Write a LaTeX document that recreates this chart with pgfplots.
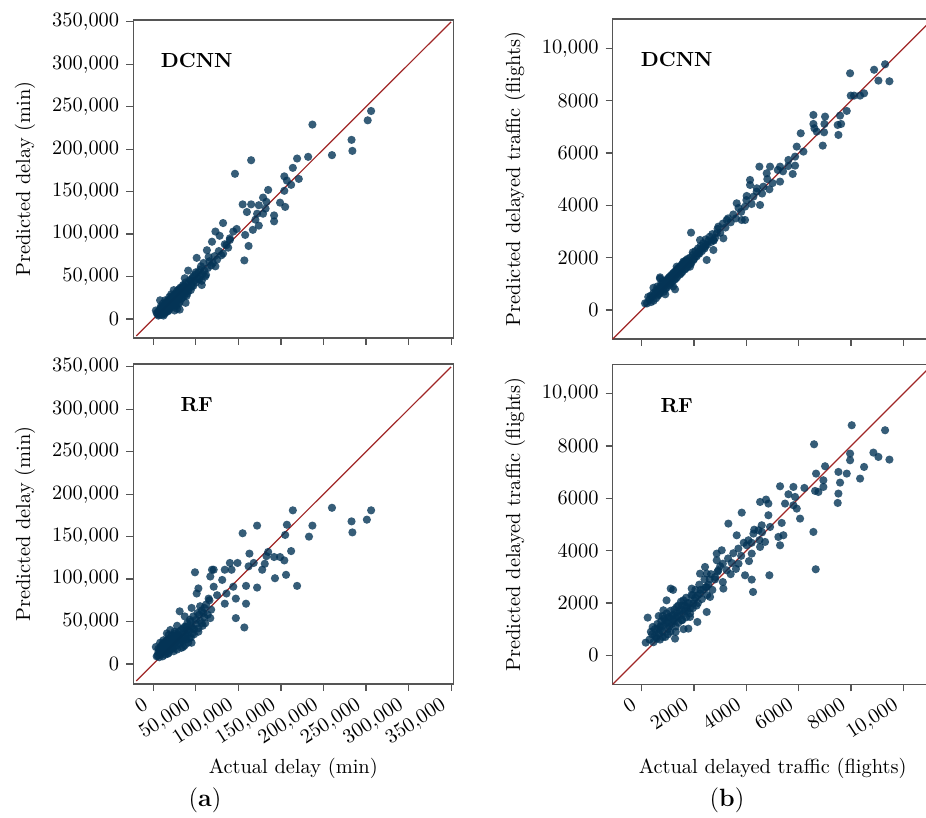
\documentclass[border=0pt]{standalone}
\usepackage{pgfplots}
\pgfplotsset{compat=1.18}
\definecolor{dotc}{RGB}{4,52,86}
\definecolor{diagc}{RGB}{160,38,38}
\definecolor{framec}{RGB}{85,85,85}

\pgfplotstableread{
x y
256000 245000
252000 234000
233000 211000
234000 198000
210000 193000
187000 229000
182000 191000
169000 189000
164000 178000
171000 165000
154000 168000
157000 163000
162000 158000
154000 151000
149000 137000
155000 132000
142000 122000
142000 115000
135000 152000
129000 143000
133000 138000
124000 134000
132000 130000
129000 124000
115000 187000
96000 171000
115000 135000
105000 135000
110000 126000
122000 124000
120000 117000
124000 110000
117000 105000
108000 99000
112000 86000
107000 69000
98000 106000
94000 103000
82000 113000
73000 103000
78000 98000
90000 93000
86000 87000
82000 77000
73000 62000
69000 91000
63000 81000
51000 72000
65000 73000
59000 66000
55000 58000
41000 57000
57000 40000
37000 48000
45000 38000
31000 34000
38000 19000
31000 11000
8000 22000
4000 7000
5000 6000
6000 9000
7000 5000
8000 8000
8000 12000
9000 7000
10000 10000
10000 14000
11000 8000
12000 11000
12000 15000
13000 9000
14000 13000
14000 18000
15000 12000
15000 16000
16000 20000
17000 14000
17000 22000
18000 17000
19000 15000
19000 20000
20000 24000
20000 18000
21000 13000
22000 21000
22000 26000
23000 19000
24000 23000
24000 28000
25000 16000
25000 21000
26000 30000
27000 25000
27000 20000
28000 33000
28000 27000
29000 22000
30000 29000
30000 35000
31000 26000
32000 31000
33000 36000
33000 24000
34000 29000
35000 40000
35000 33000
36000 27000
37000 38000
38000 32000
38000 43000
39000 36000
40000 30000
41000 42000
42000 37000
43000 46000
44000 34000
45000 41000
46000 48000
47000 39000
48000 45000
49000 52000
50000 43000
52000 47000
53000 55000
55000 50000
57000 45000
58000 53000
60000 57000
62000 52000
64000 60000
66000 68000
68000 63000
70000 66000
72000 74000
75000 70000
77000 80000
80000 75000
84000 88000
88000 84000
90000 95000
12000 4000
18000 10000
25000 10000
30000 18000
15000 8000
22000 15000
3000 10000
28000 12000
6000 4000
9000 15000
11000 18000
13000 6000
16000 11000
18000 21000
20000 14000
21000 29000
23000 16000
25000 26000
26000 19000
29000 31000
31000 20000
32000 37000
34000 25000
36000 39000
39000 27000
41000 33000
44000 45000
47000 50000
50000 55000
54000 47000
56000 62000
61000 50000
19000 26000
24000 34000
14000 22000
10000 5000
17000 9000
27000 15000
}\tlData

\pgfplotstableread{
x y
9300 9390
8880 9180
9045 8765
9466 8740
7963 9045
7988 8192
8115 8192
8345 8192
8498 8280
7835 7606
7580 7427
7620 7109
7517 6689
7490 7070
7007 7390
6561 7453
6561 7109
6982 7109
6688 6816
6969 6790
6918 6281
6600 6943
6077 6752
5924 6243
6179 6052
5861 5860
5606 5733
5861 5516
5771 5198
5287 5478
5287 4905
4905 5478
4777 5223
4497 5478
4140 4969
4140 4778
4880 4612
4650 4714
4395 4523
4268 4332
4013 4357
4523 4013
3949 3949
3631 4077
3822 3440
3949 3440
3249 3440
2930 3185
2867 2930
3121 2739
2739 2675
2739 2293
1886 2956
2420 2420
2229 2675
2166 2166
1975 1911
2484 1911
1847 1656
1593 1847
1338 1656
1210 1274
701 1248
1274 790
127 255
200 250
300 400
350 300
400 500
450 350
500 600
550 450
600 700
620 550
650 800
700 650
720 900
750 750
800 850
820 1000
850 700
900 950
920 1100
950 850
1000 1050
1000 1200
1050 950
1100 1150
1100 1300
1150 1050
1200 1250
1200 1400
1250 1150
1300 1350
1300 1500
1350 1250
1400 1450
1400 1600
1450 1350
1500 1550
1500 1700
1550 1450
1600 1650
1600 1800
1650 1550
1700 1750
1700 1900
1750 1650
1800 1850
1850 2000
1900 1800
1950 2100
2000 1950
2050 2250
2100 2050
2150 2350
2200 2150
2250 2450
2300 2250
2350 2550
2400 2350
2450 2700
2500 2500
2600 2800
2650 2600
2700 2900
2800 2750
2900 3100
3000 2950
3100 3300
3200 3150
3300 3500
3400 3350
3500 3650
3600 3500
3700 3900
3800 3750
4000 4200
4200 4050
4400 4650
4600 4450
4800 5000
5000 4850
5200 5350
5400 5300
5600 5500
450 850
700 1200
900 600
1200 900
250 500
350 550
450 650
550 750
650 600
750 1000
850 900
950 1150
1050 1250
1150 1350
1250 1450
1350 1550
1450 1650
1550 1750
1650 1850
1750 1950
1850 1750
1950 2200
2050 2050
2150 2200
2250 2300
2350 2400
2450 2500
2550 2650
2750 2650
900 800
1100 1000
1300 1200
1500 1400
1700 1600
600 900
800 1100
}\trData

\pgfplotstableread{
x y
256000 181000
251000 170000
233000 168000
234000 155000
210000 184000
187000 163000
183000 150000
169000 92000
164000 181000
157000 164000
155000 152000
162000 133000
156000 105000
154000 122000
149000 126000
142000 126000
143000 101000
135000 132000
133000 127000
131000 118000
128000 111000
122000 163000
105000 154000
122000 90000
118000 119000
113000 130000
112000 115000
109000 92000
109000 71000
97000 54000
107000 43000
99000 119000
90000 119000
92000 111000
94000 91000
97000 77000
84000 111000
81000 99000
86000 83000
84000 71000
71000 111000
67000 103000
69000 111000
71000 91000
75000 81000
65000 77000
49000 108000
53000 89000
51000 83000
45000 66000
55000 68000
59000 60000
67000 54000
61000 48000
53000 42000
31000 62000
37000 56000
39000 44000
16000 36000
4000 9000
5000 10000
6000 14000
7000 8000
8000 18000
9000 12000
10000 22000
10000 16000
11000 9000
12000 20000
12000 14000
13000 25000
14000 17000
14000 11000
15000 22000
16000 28000
16000 15000
17000 19000
18000 24000
18000 13000
19000 30000
20000 21000
20000 17000
21000 26000
22000 34000
22000 19000
23000 23000
24000 29000
24000 15000
25000 20000
26000 36000
26000 25000
27000 31000
28000 22000
28000 17000
29000 27000
30000 38000
30000 33000
31000 24000
32000 29000
33000 19000
33000 40000
34000 35000
35000 27000
36000 31000
37000 44000
37000 22000
38000 37000
39000 29000
40000 48000
40000 34000
41000 25000
42000 39000
43000 52000
44000 31000
45000 44000
46000 36000
47000 56000
48000 41000
50000 47000
52000 60000
53000 38000
55000 51000
57000 63000
58000 45000
60000 55000
62000 70000
64000 58000
66000 75000
68000 64000
3000 20000
8000 25000
20000 40000
28000 45000
45000 25000
7000 13000
9000 20000
11000 24000
13000 16000
15000 27000
17000 12000
19000 23000
21000 32000
23000 18000
25000 33000
27000 27000
29000 35000
31000 30000
33000 28000
35000 42000
38000 33000
40000 40000
42000 30000
44000 50000
46000 42000
48000 35000
50000 52000
54000 58000
57000 48000
60000 66000
12000 28000
18000 34000
25000 38000
35000 20000
6000 18000
}\blData

\pgfplotstableread{
x y
8026 8791
9300 8600
6587 8064
7963 7708
7963 7453
8854 7746
9045 7580
9466 7478
8498 7198
8345 6752
7517 7007
7835 6943
7580 6599
7517 6179
7490 5822
7007 7224
6663 6943
6943 6688
6943 6434
6625 6281
6752 6242
6217 6395
6561 4714
6650 3287
5797 6434
5287 6459
5606 6153
5861 6052
5478 5797
5797 5733
6052 5223
5924 5605
5350 5058
5223 4523
5414 4587
5287 4204
4905 4905
4523 5860
4752 5950
4841 5797
4841 5351
4586 4969
4459 4778
4268 4650
4077 4395
4714 4332
4523 4140
4013 4204
4204 3886
3822 5452
3312 5032
3631 4586
3694 4077
3440 3529
3949 3058
4204 2892
4879 3058
4255 2421
3058 4013
2867 3886
2867 3631
3249 3249
2930 3249
2420 3376
2484 3121
2230 3121
2803 2994
3121 2548
2612 2230
2484 2612
1911 2548
2230 2357
1975 1975
2484 1656
2128 1274
1108 2548
1593 2102
1338 1847
1720 1847
1847 1465
1529 1338
1784 1019
1274 637
229 1440
420 1083
153 484
700 955
828 1720
1019 1465
573 637
300 600
400 800
450 500
500 1000
550 700
600 1200
650 850
700 600
700 1100
750 1300
800 900
800 1500
850 1150
900 1350
900 700
950 1600
1000 1000
1000 1250
1050 1450
1100 1700
1100 900
1150 1200
1200 1550
1200 1350
1250 1750
1300 1100
1300 1450
1350 1650
1400 1900
1400 1250
1450 1500
1500 1750
1500 2050
1550 1350
1600 1600
1650 1900
1700 2200
1700 1450
1750 1700
1800 2000
1850 1600
1900 2300
1950 1800
2000 2100
2050 2500
2100 1900
2150 2300
2200 2700
2300 2150
2350 2500
2400 2900
2500 2300
2550 2700
2650 3100
2700 2500
2800 2900
3000 3400
3100 2800
3300 3700
3400 3100
3600 3300
3700 3500
3900 4300
4100 3600
4300 4800
4500 4400
650 1500
950 2100
1200 2500
1600 1000
350 900
500 750
600 1000
750 1100
850 1400
950 1250
1050 1100
1150 1500
1250 1300
1350 1500
1450 1700
1550 1900
1650 1700
1750 2000
1850 1800
1950 2300
2050 2200
2150 2000
2250 2500
2450 2600
2600 2900
2900 3200
3100 3500
3500 3900
3800 3800
4200 4300
4600 4700
800 700
1000 800
1300 900
}\brData

\pgfplotsset{
  base/.style={
    scale only axis, width=160pt, height=160pt,
    axis line style={framec, line width=0.6pt},
    every tick/.style={framec, line width=0.6pt},
    tick align=outside, major tick length=3.5pt,
    xtick pos=left, ytick pos=left,
    scaled ticks=false,
    /pgf/number format/fixed,
    /pgf/number format/1000 sep={,},
    /pgf/number format/min exponent for 1000 sep=4,
    /pgf/number format/assume math mode=true,
    xticklabel style={xshift=-5.5pt, yshift=-1pt, anchor=north east, rotate=33, inner sep=1pt},
    anchor=south west, clip=false,
  },
  dots/.style={only marks, mark=*, mark size=2.05pt,
    mark options={draw opacity=0, fill=dotc, fill opacity=0.8}},
  diag/.style={diagc, line width=0.6pt, no marks},
  leftax/.style={base,
    xtick={0,50000,...,350000}, ytick={0,50000,...,350000},
    xmin=-23500, xmax=352600,
    ylabel={Predicted delay (min)},
    ylabel style={at={(rel axis cs:-0.338,0.5)}, anchor=center},
  },
  rightax/.style={base,
    xtick={0,2000,...,10000}, ytick={0,2000,...,10000},
    xmin=-1108, xmax=11120, ymin=-1108, ymax=11120,
    ylabel={Predicted delayed traffic (flights)},
    ylabel style={at={(rel axis cs:-0.305,0.5)}, anchor=center},
  },
}

\begin{document}
\fontsize{10.2}{12.2}\selectfont
\begin{tikzpicture}
% top left
\begin{axis}[leftax, at={(66.65pt,240pt)}, height=159pt,
  ymin=-22400, ymax=352200, xticklabels={}]
\addplot[diag] coordinates {(-20000,-20000) (350000,350000)};
\addplot[dots] table[x=x,y=y] {\tlData};
\node[font=\bfseries] at (axis cs:51000,305000) {DCNN};
\end{axis}
% top right
\begin{axis}[rightax, at={(306.35pt,239.5pt)}, xticklabels={}]
\addplot[diag] coordinates {(-1108,-1108) (11120,11120)};
\addplot[dots] table[x=x,y=y] {\trData};
\node[font=\bfseries] at (axis cs:1338,9553) {DCNN};
\end{axis}
% bottom left
\begin{axis}[leftax, at={(66.65pt,67pt)},
  ymin=-23600, ymax=353400,
  xlabel={Actual delay (min)},
  xlabel style={at={(rel axis cs:0.5,-0.2625)}, anchor=center}]
\addplot[diag] coordinates {(-20000,-20000) (350000,350000)};
\addplot[dots] table[x=x,y=y] {\blData};
\node[font=\bfseries] at (axis cs:51000,305000) {RF};
\node at (rel axis cs:0.224,-0.3625) {\fontsize{12.5}{14}\selectfont(\textbf{a})};
\end{axis}
% bottom right
\begin{axis}[rightax, at={(306.35pt,66.85pt)},
  xlabel={Actual delayed traffic (flights)},
  xlabel style={at={(rel axis cs:0.5,-0.2625)}, anchor=center}]
\addplot[diag] coordinates {(-1108,-1108) (11120,11120)};
\addplot[dots] table[x=x,y=y] {\brData};
\node[font=\bfseries] at (axis cs:1338,9553) {RF};
\node at (rel axis cs:0.357,-0.3625) {\fontsize{12.5}{14}\selectfont(\textbf{b})};
\end{axis}
\pgfresetboundingbox
\useasboundingbox (0pt,0pt) rectangle (463pt,409pt);
\end{tikzpicture}
\end{document}
